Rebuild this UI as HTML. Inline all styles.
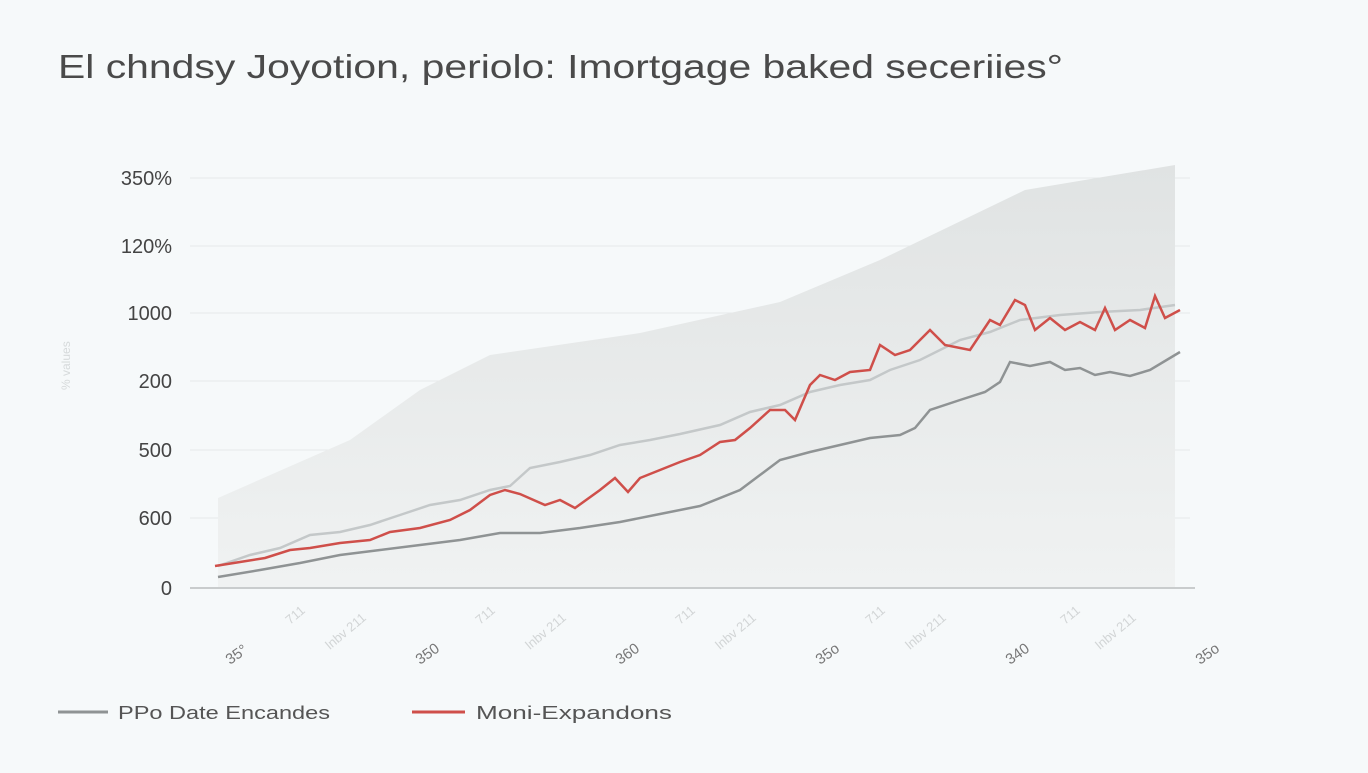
<!DOCTYPE html>
<html><head><meta charset="utf-8"><style>
body{margin:0;width:1368px;height:768px;background:#f6f9fa;font-family:"Liberation Sans",sans-serif;overflow:hidden}
</style></head><body>
<svg width="1368" height="768" xmlns="http://www.w3.org/2000/svg">
<defs><linearGradient id="g" x1="0" y1="0" x2="0" y2="1"><stop offset="0" stop-color="#e0e3e3"/><stop offset="1" stop-color="#f0f2f2"/></linearGradient></defs>
<text x="58" y="78" font-size="33" fill="#4a4a4a" textLength="1005" lengthAdjust="spacingAndGlyphs">El chndsy Joyotion, periolo: Imortgage baked seceriies°</text>
<g stroke="#e6e9ea" stroke-width="1">
<line x1="190" y1="178" x2="1190" y2="178"/><line x1="190" y1="246" x2="1190" y2="246"/><line x1="190" y1="313" x2="1190" y2="313"/><line x1="190" y1="381" x2="1190" y2="381"/><line x1="190" y1="450" x2="1190" y2="450"/><line x1="190" y1="518" x2="1190" y2="518"/>
</g>
<polygon points="218,498 350,440 420,390 490,355 640,333 780,302 880,260 1025,190 1175,165 1175,588 218,588" fill="url(#g)"/>
<line x1="190" y1="588" x2="1195" y2="588" stroke="#c9cccd" stroke-width="2"/>
<g font-size="20" fill="#444" text-anchor="end">
<text x="172" y="185">350%</text><text x="172" y="253">120%</text><text x="172" y="320">1000</text><text x="172" y="388">200</text><text x="172" y="457">500</text><text x="172" y="525">600</text><text x="172" y="595">0</text>
</g>
<text x="70" y="390" font-size="12" fill="#d6dadb" transform="rotate(-90 70 390)">% values</text>
<polyline fill="none" stroke="#c4c8c9" stroke-width="2.5" points="218,566 250,555 280,548 310,535 340,532 370,525 400,515 430,505 460,500 490,490 510,486 530,468 560,462 590,455 620,445 650,440 680,434 720,425 750,412 780,405 810,392 840,385 870,380 890,370 920,360 960,340 990,332 1020,320 1060,315 1100,312 1140,310 1175,305"/>
<polyline fill="none" stroke="#cf4f4a" stroke-width="2.5" points="215,566 240,562 265,558 290,550 310,548 340,543 370,540 390,532 420,528 450,520 470,510 490,495 505,490 520,494 545,505 560,500 575,508 600,490 615,478 628,492 640,478 660,470 680,462 700,455 720,442 735,440 750,428 770,410 785,410 795,420 810,385 820,375 835,380 850,372 870,370 880,345 895,355 910,350 930,330 945,345 970,350 990,320 1000,325 1015,300 1025,305 1035,330 1050,318 1065,330 1080,322 1095,330 1105,308 1115,330 1130,320 1145,328 1155,296 1165,318 1180,310"/>
<polyline fill="none" stroke="#8f9394" stroke-width="2.5" points="218,577 260,570 300,563 340,555 380,550 420,545 460,540 500,533 540,533 580,528 620,522 660,514 700,506 740,490 760,475 780,460 810,452 840,445 870,438 900,435 915,428 930,410 960,400 985,392 1000,382 1010,362 1030,366 1050,362 1065,370 1080,368 1095,375 1110,372 1130,376 1150,370 1180,352"/>
<g font-size="15" fill="#777">
<text transform="translate(230,665) rotate(-35)">35°</text><text transform="translate(420,665) rotate(-35)">350</text><text transform="translate(620,665) rotate(-35)">360</text><text transform="translate(820,665) rotate(-35)">35o</text><text transform="translate(1010,665) rotate(-35)">340</text><text transform="translate(1200,665) rotate(-35)">35o</text>
</g>
<g font-size="13" fill="#d2d5d6">
<text transform="translate(290,625) rotate(-40)">711</text><text transform="translate(330,650) rotate(-40)">lnbv 211</text><text transform="translate(480,625) rotate(-40)">711</text><text transform="translate(530,650) rotate(-40)">lnbv 211</text><text transform="translate(680,625) rotate(-40)">711</text><text transform="translate(720,650) rotate(-40)">lnbv 211</text><text transform="translate(870,625) rotate(-40)">711</text><text transform="translate(910,650) rotate(-40)">lnbv 211</text><text transform="translate(1065,625) rotate(-40)">711</text><text transform="translate(1100,650) rotate(-40)">lnbv 211</text>
</g>
<line x1="58" y1="712" x2="108" y2="712" stroke="#8f9394" stroke-width="3"/>
<text x="118" y="719" font-size="18" fill="#555" textLength="212" lengthAdjust="spacingAndGlyphs">PPo Date Encandes</text>
<line x1="412" y1="712" x2="465" y2="712" stroke="#cf4f4a" stroke-width="3"/>
<text x="476" y="719" font-size="18" fill="#555" textLength="196" lengthAdjust="spacingAndGlyphs">Moni-Expandons</text>
</svg>
</body></html>
